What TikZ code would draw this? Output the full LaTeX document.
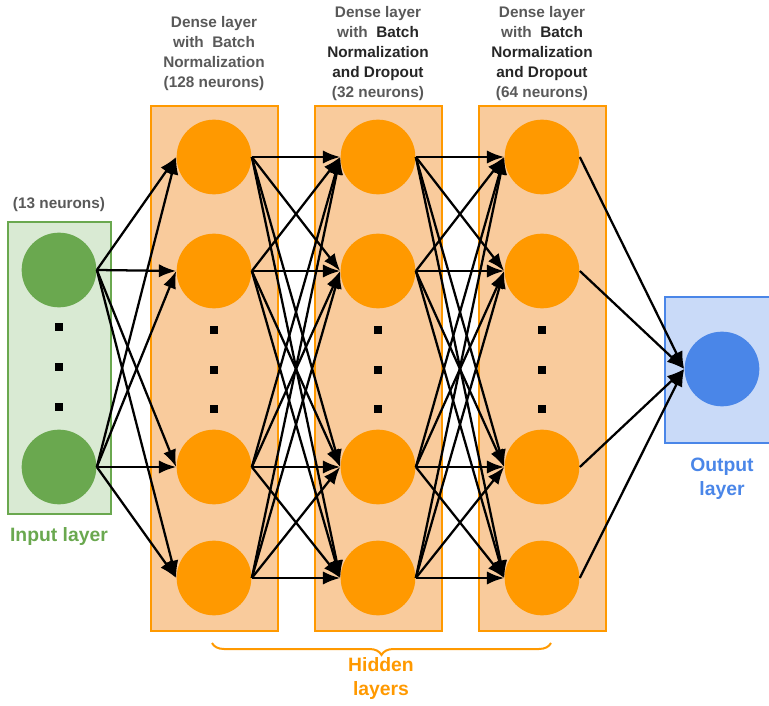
\documentclass[tikz,border=0pt]{standalone}
\usepackage{fontspec}
\setmainfont{Liberation Sans}
\usetikzlibrary{arrows.meta,decorations.pathreplacing}
\definecolor{inGreen}{HTML}{6AA84F}
\definecolor{inGreenBg}{HTML}{D9EAD3}
\definecolor{hidOrange}{HTML}{FF9900}
\definecolor{hidOrangeBg}{HTML}{F9CB9C}
\definecolor{outBlue}{HTML}{4A86E8}
\definecolor{outBlueBg}{HTML}{C9DAF8}
\definecolor{capGray}{HTML}{595959}
\definecolor{capDark}{HTML}{262626}

\tikzset{every picture/.style={line width=0.75pt}}
\tikzset{
  neuron/.style={circle,minimum size=56pt,inner sep=0pt},
  layerbox/.style={line width=1.5pt},
  dotmark/.style={fill=black,minimum size=6.5pt,inner sep=0pt},
  link/.style={line width=1.7pt,-{Latex[length=13pt,width=10pt]}},
  caption/.style={font=\bfseries\fontsize{11.5}{15}\selectfont,align=center,text=capGray,inner sep=0pt},
  tag/.style={font=\bfseries\fontsize{14.5}{18}\selectfont,align=center,inner sep=0pt}
}

\begin{document}
\begin{tikzpicture}[x=0.75pt,y=0.75pt,yscale=-1,xscale=1]
  \useasboundingbox (0,0) rectangle (769,706);
  %Input layer box
  \draw [inGreen,fill=inGreenBg,layerbox] (8,222) rectangle (111,514) ;
  %Hidden layer boxes
  \foreach \bx in {151,315,479}
    \draw [hidOrange,fill=hidOrangeBg,layerbox] (\bx,106) rectangle ++(127,525) ;
  %Output layer box
  \draw [outBlue,fill=outBlueBg,layerbox] (665,297) rectangle (775,443) ;

  %Neurons
  \node [neuron,fill=inGreen] (in1) at (59,270) {};
  \node [neuron,fill=inGreen] (in2) at (59,467) {};
  \foreach \d/\cy in {1/327,2/367,3/407}
    \node [dotmark] (ind\d) at (59,\cy) {};
  \foreach \l/\cx in {A/214,B/378,C/542}{
    \foreach \k/\cy in {1/157,2/271,3/467,4/578}
      \node [neuron,fill=hidOrange] (h\l-\k) at (\cx,\cy) {};
    \foreach \d/\cy in {1/330,2/370,3/409}
      \node [dotmark] (h\l d\d) at (\cx,\cy) {};
  }
  \node [neuron,fill=outBlue] (out) at (722,369) {};

  %Connections
  \foreach \s in {1,2}
    \foreach \t in {1,...,4}
      \draw [link] (in\s.east) -- (hA-\t.west) ;
  \foreach \s in {1,...,4}
    \foreach \t in {1,...,4}{
      \draw [link] (hA-\s.east) -- (hB-\t.west) ;
      \draw [link] (hB-\s.east) -- (hC-\t.west) ;
    }
  \foreach \s in {1,...,4}
    \draw [link] (hC-\s.east) -- (out.west) ;

  %Brace under hidden layers
  \draw [hidOrange,line width=1.5pt,decorate,decoration={brace,amplitude=9pt}] (551,643) -- (212,643) ;

  % Text Node
  \node [caption] (capA) at (214,54) {Dense layer\\with~~Batch\\Normalization\\(128 neurons)};
  % Text Node
  \node [caption] (capB) at (378,54) {Dense layer\\with~~\textcolor{capDark}{Batch}\\\textcolor{capDark}{Normalization}\\\textcolor{capDark}{and Dropout}\\(32 neurons)};
  % Text Node
  \node [caption] (capC) at (542,54) {Dense layer\\with~~\textcolor{capDark}{Batch}\\\textcolor{capDark}{Normalization}\\\textcolor{capDark}{and Dropout}\\(64 neurons)};
  % Text Node
  \node [caption] (capIn) at (59,205) {(13 neurons)};
  % Text Node
  \node [tag,text=inGreen] (tagIn) at (59,537) {Input layer};
  % Text Node
  \node [tag,text=hidOrange] (tagHid) at (381,679) {Hidden\\layers};
  % Text Node
  \node [tag,text=outBlue] (tagOut) at (722,479) {Output\\layer};
\end{tikzpicture}
\end{document}
